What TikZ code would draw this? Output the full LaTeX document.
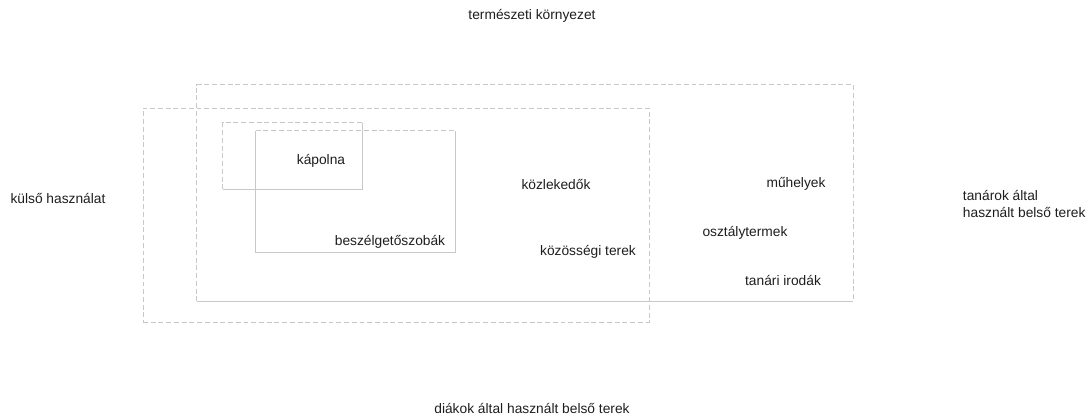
\documentclass[tikz,border=0pt]{standalone}
\usepackage{fontspec}
\setmainfont{Liberation Sans}
\usetikzlibrary{calc,positioning}
\tikzset{
    %Define standard line looks
    openside/.style={draw=spacegray, line width=0.6pt, dash pattern=on 3.5pt off 2pt},
    closedside/.style={draw=spacegray, line width=0.6pt}
}
\definecolor{spacegray}{RGB}{200,200,200}
\definecolor{labelgray}{RGB}{30,30,30}

\begin{document}
\begin{tikzpicture}[font=\fontsize{9.8}{11.5}\selectfont, every text node part/.style={align=left}, every node/.style={text=labelgray}]

	\useasboundingbox (0,0) rectangle (27.2,10.4);

	\node (teachers) at (13.125, 5.575) [minimum height=5.4cm, minimum width=16.4cm, inner sep=0] {};
	\draw[openside] (teachers.south west)--(teachers.north west)--(teachers.north east)--(teachers.south east);
	\draw[closedside] (teachers.south west)--(teachers.south east);

	\node (students) at (9.9, 5.025) [openside, minimum height=5.35cm, minimum width=12.65cm, inner sep=0] {};

	\node (chapel) at (7.3125, 6.5) [minimum height=1.65cm, minimum width=3.475cm, inner sep=0] {};
	\draw[openside] (chapel.south west)--(chapel.north west)--(chapel.north east);
	\draw[closedside] (chapel.north east)--(chapel.south east)--(chapel.south west);

	\node (talkrooms) at (8.8875, 5.6125) [minimum height=3.025cm, minimum width=4.975cm, inner sep=0] {};
	\draw[openside] (talkrooms.north west)--(talkrooms.north east);
	\draw[closedside] (talkrooms.north west)--(talkrooms.south west)--(talkrooms.south east)--(talkrooms.north east);

	\node (nature) at (13.3, 10.0) {természeti környezet};
	\node (outside) at (1.45, 5.425) {külső használat};
	\node (teacherlabel) at (23.95, 5.3) [anchor=west] {tanárok által\\használt belső terek};
	\node (studentlabel) at (13.3, 0.2) {diákok által használt belső terek};

	\node (chapellabel) at (8.025, 6.375) {kápolna};
	\node (talklabel) at (9.75, 4.35) {beszélgetőszobák};
	\node (corridors) at (13.9, 5.775) {közlekedők};
	\node (community) at (14.7, 4.1) {közösségi terek};
	\node (workshops) at (19.9, 5.8) {műhelyek};
	\node (classrooms) at (18.625, 4.575) {osztálytermek};
	\node (offices) at (19.575, 3.4) {tanári irodák};

\end{tikzpicture}
\end{document}
